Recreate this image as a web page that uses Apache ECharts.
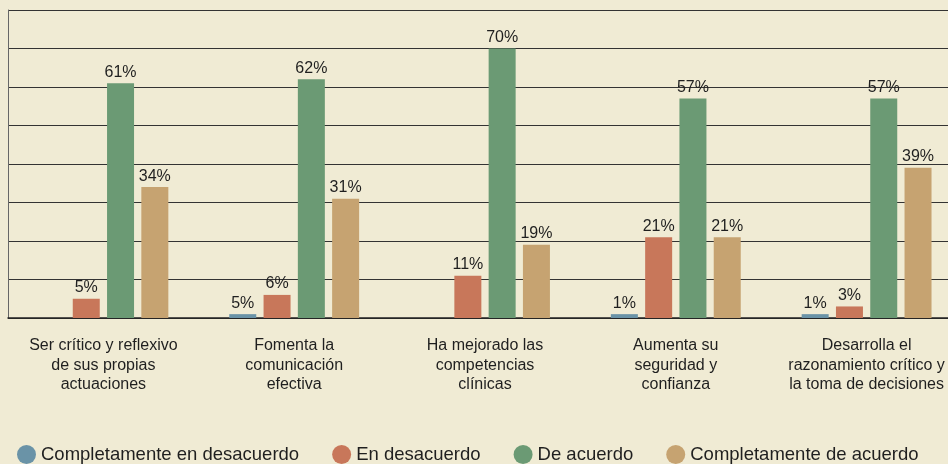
<!DOCTYPE html>
<html>
	<head>
		<meta charset="UTF-8">
		<title></title>
		<script src="https://cdn.jsdelivr.net/npm/echarts@6/dist/echarts.min.js"></script>
	</head>
	<style>
		html, body{
			margin: 0;
			padding: 0;
			overflow: hidden;
			background: #f0ebd4;
		}
		#main{
			width: 962px;
			height: 464px;
		}
	</style>
	<body>
		<div id="main"></div>
		<script>
	var categories = [
		'Ser crítico y reflexivo\nde sus propias\nactuaciones',
		'Fomenta la\ncomunicación\nefectiva',
		'Ha mejorado las\ncompetencias\nclínicas',
		'Aumenta su\nseguridad y\nconfianza',
		'Desarrolla el\nrazonamiento crítico y\nla toma de decisiones'
	];
	var seriesNames = ['Completamente en desacuerdo', 'En desacuerdo', 'De acuerdo', 'Completamente de acuerdo'];
	var colors = ['#6a93a7', '#c8775a', '#6b9a74', '#c6a371'];

	var desacuerdoTotal = [0, 1, 0, 1, 1];
	var desacuerdoTotalLabels = ['', '5%', '', '1%', '1%'];
	var desacuerdo = [5, 6, 11, 21, 3];
	var acuerdo = [61, 62, 70, 57, 57];
	var acuerdoTotal = [34, 31, 19, 21, 39];

	var yTicks = {min: 0, max: 80, interval: 10};

	var font = 'Liberation Sans, Arial, sans-serif';
	// el grafico original sigue mas alla del borde derecho
	var myChart = echarts.init(document.getElementById('main'));

	function makeSeries(name, values, color, labels){
		return {
			name: name,
			type: 'bar',
			data: values,
			barWidth: 27,
			barGap: '27%',
			itemStyle: {color: color},
			label: {
				show: true,
				position: 'top',
				distance: 3,
				color: '#1f1f1f',
				fontSize: 16,
				fontFamily: font,
				formatter: function(p){
					if (labels) return labels[p.dataIndex];
					return p.value === 0 ? '' : p.value + '%';
				}
			}
		};
	}

	var option = {
		backgroundColor: '#f0ebd4',
		animation: false,
		grid: {left: 8, top: 10, right: 0, bottom: 146},
		legend: {
			left: 12,
			top: 440,
			icon: 'circle',
			itemWidth: 19,
			itemHeight: 19,
			itemGap: 33,
			textStyle: {fontSize: 18.5, color: '#1f1f1f', fontFamily: font},
			data: seriesNames
		},
		xAxis: {
			type: 'category',
			data: categories,
			axisTick: {show: false},
			axisLine: {lineStyle: {color: '#222', width: 1.5}},
			axisLabel: {
				margin: 18,
				interval: 0,
				color: '#1f1f1f',
				fontSize: 16,
				lineHeight: 19.5,
				fontFamily: font
			}
		},
		yAxis: {
			type: 'value',
			min: yTicks.min,
			max: yTicks.max,
			interval: yTicks.interval,
			axisLabel: {show: false},
			axisTick: {show: false},
			axisLine: {show: true, lineStyle: {color: '#666'}},
			splitLine: {lineStyle: {color: '#333', width: 1}}
		},
		series: [
			makeSeries(seriesNames[0], desacuerdoTotal, colors[0], desacuerdoTotalLabels),
			makeSeries(seriesNames[1], desacuerdo, colors[1]),
			makeSeries(seriesNames[2], acuerdo, colors[2]),
			makeSeries(seriesNames[3], acuerdoTotal, colors[3])
		]
	};
	myChart.setOption(option);
		</script>
	</body>
</html>
